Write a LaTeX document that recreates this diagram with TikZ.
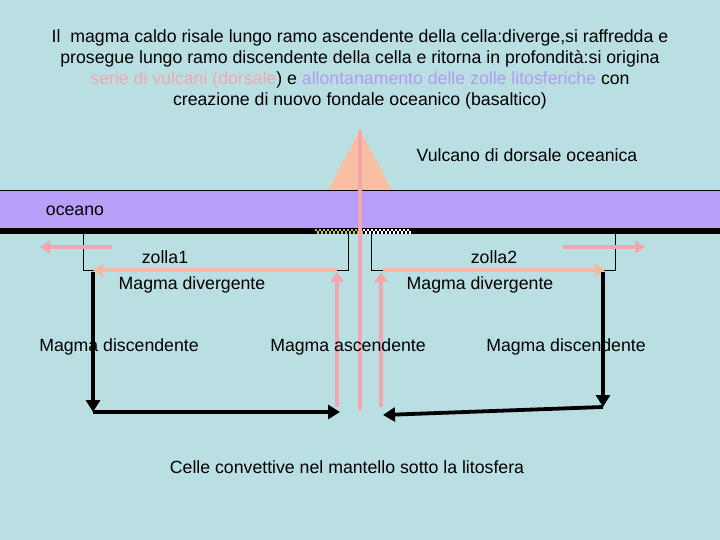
\documentclass[tikz,border=0pt]{standalone}
\usepackage{fontspec}
\setmainfont{Liberation Sans}
\usetikzlibrary{arrows.meta}
\definecolor{bg}{HTML}{BADFE2}
\definecolor{oce}{HTML}{B8A0F8}
\definecolor{pk}{HTML}{F4A6B0}
\definecolor{sal}{HTML}{F8B8A0}
\definecolor{vol}{HTML}{F9BFA2}
\definecolor{pur}{HTML}{B09CF0}
\definecolor{chk}{HTML}{B8C850}
\begin{document}
\begin{tikzpicture}[x=1pt,y=-1pt,
  txt/.style={font=\fontsize{17.7}{21}\selectfont,inner sep=0pt},
  pkarrow/.style={draw=pk,line width=4.5pt,-{Triangle[length=10pt,width=13pt]}},
  salarrow/.style={draw=sal,line width=4.5pt,-{Triangle[length=10pt,width=13pt]}},
  blk/.style={draw=black,line width=3.8pt,-{Triangle[length=12pt,width=14pt]}},
  plate/.style={draw=black,line width=0.8pt}]
\fill[bg] (0,0) rectangle (720,540);
\useasboundingbox (0,0) rectangle (720,540);
% volcano
\fill[vol] (360,130) coordinate (apex) -- (392,190) -- (328,190) -- cycle;
% ocean
\fill[oce] (0,190) rectangle (720,228);
\draw[black,line width=0.6pt] (0,190) -- (720,190);
\fill[black] (0,228) rectangle (720,234);
% checker
\foreach \i in {0,...,23}{
  \pgfmathsetmacro\xx{315+4*\i}
  \ifnum\i<12 \fill[chk] (\xx,229) rectangle ++(2,2.5); \fill[chk] (\xx+2,231.5) rectangle ++(2,2.5);
  \else \fill[white] (\xx,229) rectangle ++(2,2.5); \fill[white] (\xx+2,231.5) rectangle ++(2,2.5);\fi}
% plates
\coordinate (p1a) at (83,234); \coordinate (p1b) at (348,234);
\coordinate (p2a) at (371,234); \coordinate (p2b) at (615,234);
\draw[plate] (p1a) -- (83,270) -- (95,270);
\draw[plate] (p1b) -- (348,270) -- (337,270);
\draw[plate] (p2a) -- (371,270) -- (383,270);
\draw[plate] (p2b) -- (615,270) -- (603,270);
% central rising line
\coordinate (c0) at (360,410);
\draw[pk,line width=4.5pt] (c0) -- (apex);
% side arrows
\coordinate (la) at (112,247); \coordinate (lb) at (40,247);
\coordinate (ra) at (563,247); \coordinate (rb) at (645,247);
\draw[pkarrow] (la) -- (lb);
\draw[pkarrow] (ra) -- (rb);
% divergent
\coordinate (d1a) at (337,270); \coordinate (d1b) at (93,270);
\coordinate (d2a) at (383,270); \coordinate (d2b) at (605,270);
\draw[salarrow] (d1a) -- (d1b);
\draw[salarrow] (d2a) -- (d2b);
% ascending
\coordinate (u1) at (337,407); \coordinate (u1t) at (337,272);
\coordinate (u2) at (381,407); \coordinate (u2t) at (381,272);
\draw[pkarrow] (u1) -- (u1t);
\draw[pkarrow] (u2) -- (u2t);
% descending black
\draw[blk] (93,272) -- (93,412);
\draw[blk] (93,412) -- (340,412);
\draw[blk] (603,272) -- (603,407);
\draw[blk] (603,407) -- (383,415);
% texts
\node[txt,align=center] (title) at (360,69) {Il\ \ magma caldo risale lungo ramo ascendente della cella:diverge,si raffredda e\\
prosegue lungo ramo discendente della cella e ritorna in profondità:si origina\\
\textcolor{pk}{serie di vulcani (dorsale}) e \textcolor{pur}{allontanamento delle zolle litosferiche} con\\
creazione di nuovo fondale oceanico (basaltico)};
\node[txt] (vul) at (527,155) {Vulcano di dorsale oceanica};
\node[txt] (oc) at (75,211) {oceano};
\node[txt] (z1) at (165,257) {zolla1};
\node[txt] (z2) at (494,257) {zolla2};
\node[txt] (md1) at (192,285) {Magma divergente};
\node[txt] (md2) at (480,285) {Magma divergente};
\node[txt] (ms1) at (119,347) {Magma discendente};
\node[txt] (ma) at (348,347) {Magma ascendente};
\node[txt] (ms2) at (566,347) {Magma discendente};
\node[txt] (cel) at (347,467) {Celle convettive nel mantello sotto la litosfera};
\end{tikzpicture}
\end{document}
